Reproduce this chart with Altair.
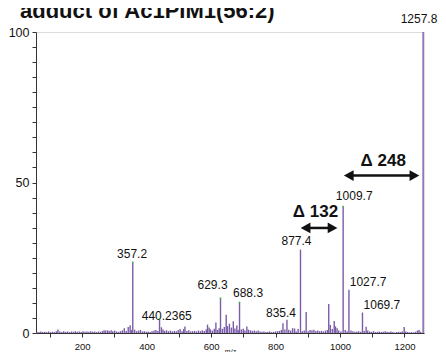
import altair as alt
import pandas as pd

# ---- spectrum (m/z, relative intensity %) ----
mz = [60, 66, 72, 78, 84, 90, 96, 102, 108, 114, 120, 125, 131, 137, 143, 149, 155, 161, 167, 173,
      179, 185, 191, 197, 203, 209, 215, 221, 227, 233, 239, 245, 251, 257, 263, 268, 273, 279, 284, 290,
      295, 301, 307, 313, 319, 325, 331, 337, 343, 349, 353, 357.2, 363, 369, 375, 381, 387, 393, 399, 405,
      411, 417, 423, 429, 435, 440.2, 446, 451, 456, 462, 468, 474, 480, 486, 492, 498, 504, 510, 515, 519,
      525, 531, 537, 543, 549, 555, 561, 567, 573, 579, 585, 589, 594, 598, 604, 610, 615, 620, 625, 629.3,
      635, 641, 647, 651, 657, 663, 669, 674, 680, 684, 688.3, 694, 700, 705, 711, 716, 722, 728, 734, 740,
      746, 752, 758, 764, 770, 776, 782, 788, 794, 800, 806, 812, 818, 823, 829, 835.4, 841, 847, 853, 859,
      864, 870, 877.4, 883, 889, 895, 901, 907, 913, 919, 925, 931, 937, 943, 949, 955, 961, 965, 970, 976,
      982, 986, 991, 996, 1003, 1009.7, 1016, 1022, 1027.7, 1034, 1040, 1046, 1052, 1058, 1064, 1069.7, 1075, 1081, 1086, 1092,
      1098, 1104, 1110, 1116, 1122, 1128, 1134, 1140, 1146, 1152, 1158, 1164, 1170, 1176, 1182, 1188, 1193, 1199, 1204, 1210,
      1216, 1222, 1228, 1234, 1240, 1245, 1250, 1257.8]
intensity = [0.4, 0.3, 0.5, 0.3, 0.4, 0.3, 0.5, 0.3, 0.4, 0.3, 0.6, 1.2, 0.5, 0.3, 0.6, 0.4, 0.5, 0.3, 0.5, 0.4,
             0.6, 0.4, 0.5, 0.3, 0.6, 0.4, 0.5, 0.4, 0.6, 0.4, 0.5, 0.3, 0.5, 0.4, 0.6, 0.9, 0.8, 0.9, 0.7, 0.9,
             0.6, 0.8, 0.5, 0.4, 0.6, 0.9, 1.6, 0.7, 2.0, 2.6, 1.0, 23.5, 1.1, 0.6, 0.8, 1.0, 0.5, 0.6, 0.4, 0.5,
             0.3, 0.6, 0.8, 1.0, 0.7, 4.8, 1.9, 1.2, 0.7, 0.9, 0.6, 0.8, 0.5, 0.7, 0.6, 1.0, 1.3, 0.6, 1.3, 2.2,
             0.7, 0.9, 0.5, 0.6, 0.7, 0.5, 0.8, 0.6, 0.9, 0.7, 1.2, 2.8, 1.8, 1.2, 0.8, 1.4, 3.5, 1.0, 1.6, 11.6,
             1.4, 2.0, 6.1, 2.3, 3.1, 1.8, 3.9, 1.5, 2.5, 1.0, 10.2, 1.2, 1.4, 0.8, 2.2, 1.1, 0.9, 0.7, 0.8, 0.6,
             0.8, 0.5, 0.4, 0.5, 0.3, 0.4, 0.5, 0.3, 0.4, 0.5, 0.6, 0.7, 1.0, 3.2, 1.2, 4.4, 1.1, 0.8, 1.6, 1.5,
             0.5, 1.3, 27.7, 0.6, 0.8, 7.0, 0.6, 1.0, 0.9, 1.1, 0.7, 0.8, 0.6, 0.7, 0.5, 0.8, 1.0, 9.6, 2.7, 1.3,
             4.0, 2.2, 1.6, 0.8, 0.5, 42.0, 1.0, 0.6, 14.4, 0.8, 0.6, 0.4, 0.5, 0.6, 0.4, 6.8, 0.7, 2.1, 0.8, 0.5,
             0.4, 0.6, 0.3, 0.4, 0.5, 0.3, 0.4, 0.6, 0.4, 0.3, 0.5, 0.3, 0.2, 0.3, 0.4, 0.3, 0.5, 2.0, 0.5, 0.3,
             0.2, 0.3, 0.2, 0.4, 0.8, 1.0, 0.4, 100.0]

# ---- axis tick values ----
x_ticks = [100, 200, 300, 400, 500, 600, 700, 800, 900, 1000, 1100, 1200]
y_ticks = [0, 5, 10, 15, 20, 25, 30, 35, 40, 45, 50, 55, 60, 65, 70, 75, 80, 85, 90, 95, 100]

# ---- peak annotations ----
label_text = ["357.2", "440.2365", "629.3", "688.3", "835.4", "877.4", "1009.7", "1027.7", "1069.7", "1257.8"]
label_mz = [355, 462.6, 604.6, 714.7, 817, 865, 1044, 1087, 1130, 1245]
label_y = [25.0, 4.4, 14.7, 11.8, 5.4, 29.3, 44.3, 15.7, 8.1, 103.0]

dot_mz = [357.2, 440.2, 629.3, 688.3, 1009.7]
dot_y = [23.5, 4.8, 11.6, 10.2, 42.0]

delta_text = ["Δ 132", "Δ 248"]
delta_mz = [924, 1134]
delta_y = [38.7, 55.6]

arrow_from = [878, 1012]
arrow_to = [992, 1246]
arrow_y = [34.9, 52.3]

title_text = "adduct of Ac1PIM1(56:2)"

spec = pd.DataFrame({"mz": mz, "i": intensity})
labels = pd.DataFrame({"t": label_text, "mz": label_mz, "y": label_y})
dots = pd.DataFrame({"mz": dot_mz, "y": dot_y})
deltas = pd.DataFrame({"t": delta_text, "mz": delta_mz, "y": delta_y})
arrows = pd.DataFrame({"a": arrow_from, "b": arrow_to, "y": arrow_y})

PURPLE = "#7b5ca8"
FONT = "Liberation Sans"

xs = alt.Scale(domain=[57, 1260.5], nice=False, zero=False)
ys = alt.Scale(domain=[0, 100], nice=False)

x_axis = alt.Axis(values=x_ticks,
                  labelExpr="datum.value % 200 === 0 ? '' + datum.value : ''",
                  title="m/z", titleFontSize=7, titleFontWeight="normal", titleFont=FONT,
                  titleColor="#222", titleBaseline="top", titleY=14,
                  labelFont=FONT, labelFontSize=9.5, labelColor="#111", labelPadding=4,
                  tickSize=4, tickColor="#333", domainColor="#333", grid=False,
                  labelFlush=False, labelOverlap=False)
y_axis = alt.Axis(values=y_ticks,
                  labelExpr="datum.value % 50 === 0 ? '' + datum.value : ''",
                  title=None, labelFont=FONT, labelFontSize=12.5, labelColor="#111",
                  labelPadding=3, tickSize=4, tickColor="#333", domainColor="#333",
                  grid=False, labelOverlap=False, labelFlush=False)

AX = dict(scale=xs, axis=x_axis, title="m/z")
AY = dict(scale=ys, axis=y_axis, title=None)

peaks = alt.Chart(spec).mark_rule(color=PURPLE, strokeWidth=1.4).encode(
    x=alt.X("mz:Q", **AX),
    y=alt.Y("i:Q", **AY),
    y2=alt.datum(0),
)

peak_labels = alt.Chart(labels).mark_text(font=FONT, fontSize=12, color="#111",
                                          align="center", baseline="alphabetic").encode(
    x=alt.X("mz:Q", **AX), y=alt.Y("y:Q", **AY), text="t:N")

green = alt.Chart(dots).mark_square(color="#22cc22", size=2, opacity=1).encode(
    x=alt.X("mz:Q", **AX), y=alt.Y("y:Q", **AY))

delta_labels = alt.Chart(deltas).mark_text(font=FONT, fontSize=17, fontWeight="bold",
                                           color="#111", align="center",
                                           baseline="alphabetic").encode(
    x=alt.X("mz:Q", **AX), y=alt.Y("y:Q", **AY), text="t:N")

arrow_line = alt.Chart(arrows).mark_rule(color="#111", strokeWidth=2.5,
                                         xOffset=5, x2Offset=-5).encode(
    x=alt.X("a:Q", **AX), x2="b:Q", y=alt.Y("y:Q", **AY))
head_left = alt.Chart(arrows).mark_point(shape="M0,0 L1,-0.55 L1,0.55 Z", size=380,
                                         filled=True, color="#111", opacity=1).encode(
    x=alt.X("a:Q", **AX), y=alt.Y("y:Q", **AY))
head_right = alt.Chart(arrows).mark_point(shape="M0,0 L-1,-0.55 L-1,0.55 Z", size=380,
                                          filled=True, color="#111", opacity=1).encode(
    x=alt.X("b:Q", **AX), y=alt.Y("y:Q", **AY))

title = alt.Chart(pd.DataFrame({"t": [title_text]})).mark_text(
    font=FONT, fontSize=22, fontWeight="bold", color="#111",
    align="left", baseline="alphabetic").encode(
    x=alt.value(-16), y=alt.value(-14), text="t:N")

chart = alt.layer(peaks, peak_labels, green, arrow_line, head_left, head_right,
                  delta_labels, title).properties(
    width=388, height=301,
    autosize=alt.AutoSizeParams(type="none"),
    padding={"left": 28, "top": 24, "right": 14, "bottom": 19},
).configure_view(stroke=None).configure(background="white")

chart.save("out.html", embed_options={"renderer": "svg", "actions": False})
